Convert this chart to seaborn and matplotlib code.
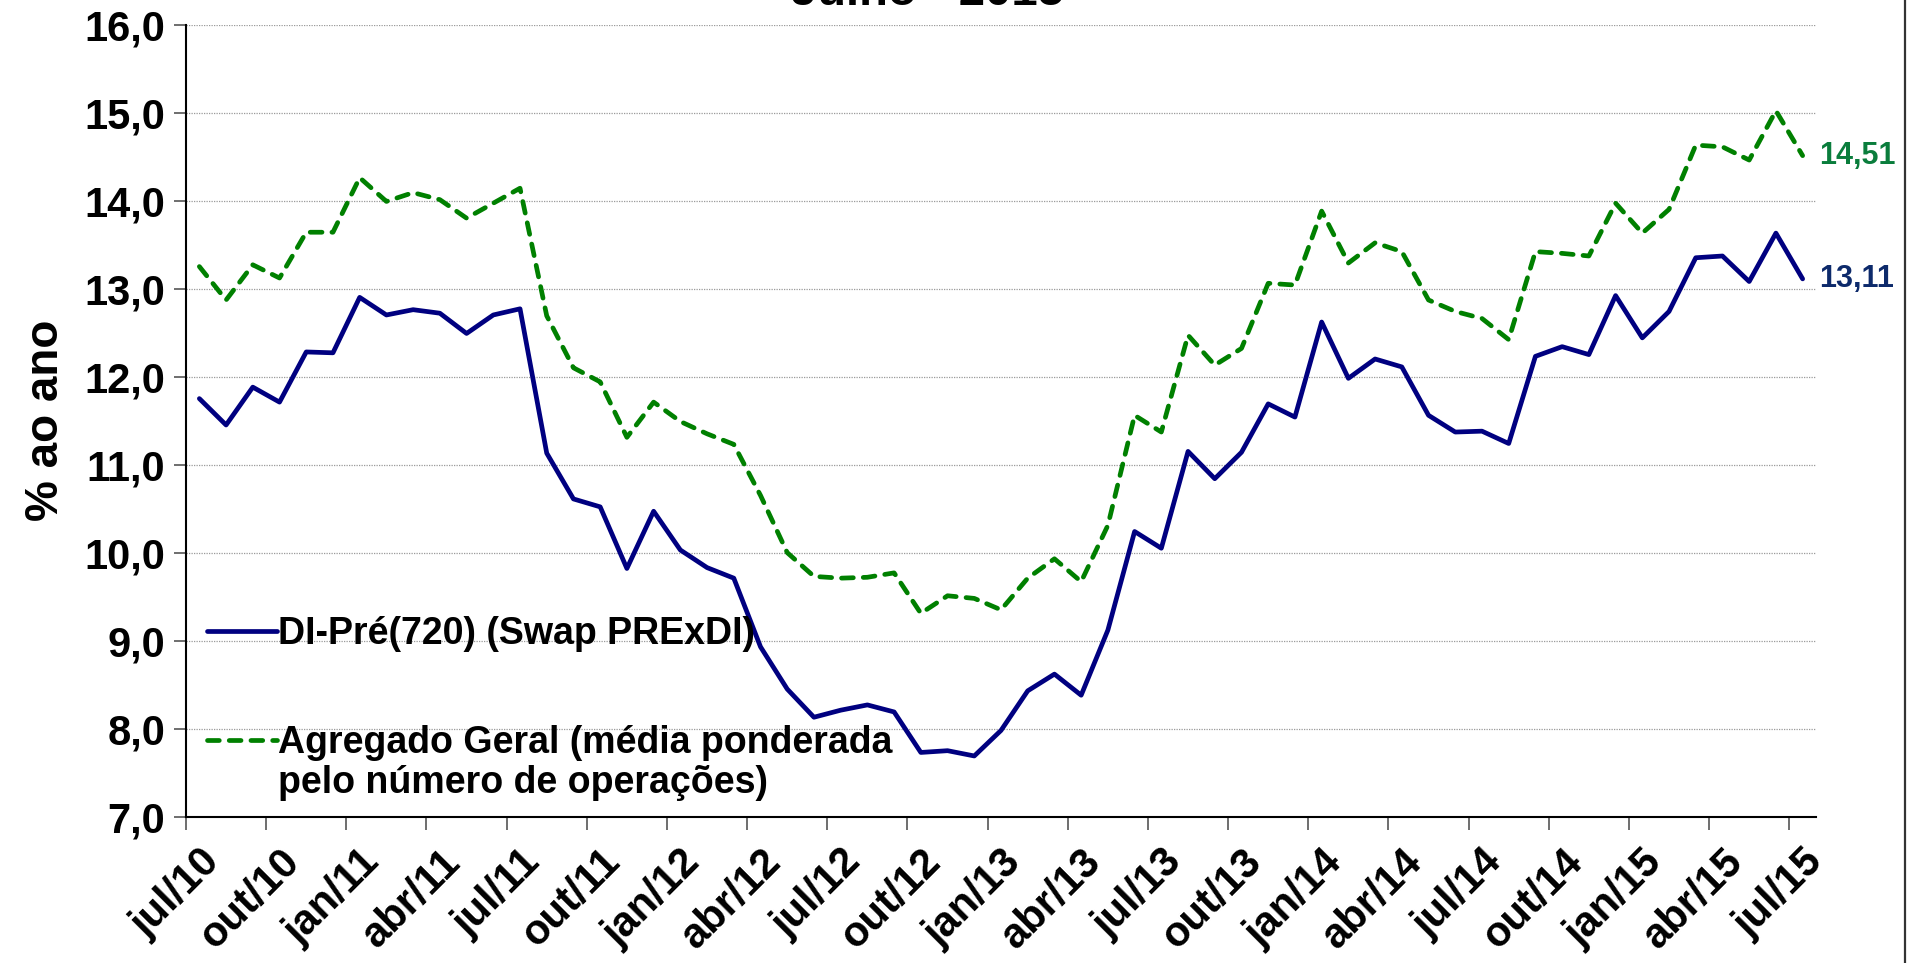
import numpy as np
import pandas as pd
import matplotlib
matplotlib.use("Agg")
import matplotlib.pyplot as plt
from matplotlib.lines import Line2D
from matplotlib.ticker import FixedLocator
import seaborn as sns

# ---- data -------------------------------------------------------------
month_abbr = ["jan", "fev", "mar", "abr", "mai", "jun",
              "jul", "ago", "set", "out", "nov", "dez"]
start_year, start_month, n_months = 2010, 7, 61

di_pre = [11.75, 11.45, 11.88, 11.71, 12.28, 12.27, 12.90, 12.70, 12.76, 12.72,
          12.49, 12.70, 12.77, 11.13, 10.61, 10.52, 9.82, 10.47, 10.03, 9.83,
          9.71, 8.93, 8.45, 8.13, 8.21, 8.27, 8.19, 7.73, 7.75, 7.69,
          7.98, 8.43, 8.62, 8.38, 9.12, 10.24, 10.05, 11.15, 10.84, 11.14,
          11.69, 11.54, 12.62, 11.98, 12.20, 12.11, 11.56, 11.37, 11.38, 11.24,
          12.23, 12.34, 12.25, 12.92, 12.44, 12.74, 13.35, 13.37, 13.08, 13.63,
          13.11]
agregado = [13.25, 12.87, 13.27, 13.12, 13.64, 13.64, 14.26, 13.99, 14.09, 14.01,
            13.80, 13.97, 14.14, 12.69, 12.10, 11.94, 11.31, 11.71, 11.49, 11.35,
            11.23, 10.65, 10.00, 9.73, 9.71, 9.72, 9.77, 9.31, 9.51, 9.48,
            9.35, 9.71, 9.93, 9.67, 10.31, 11.56, 11.37, 12.47, 12.13, 12.32,
            13.06, 13.04, 13.88, 13.29, 13.52, 13.42, 12.87, 12.74, 12.66, 12.42,
            13.42, 13.40, 13.37, 13.97, 13.63, 13.90, 14.63, 14.61, 14.46, 15.02,
            14.51]
y_ticks = [7, 8, 9, 10, 11, 12, 13, 14, 15, 16]
y_tick_labels = ["7,0", "8,0", "9,0", "10,0", "11,0", "12,0", "13,0", "14,0", "15,0", "16,0"]
label_di = "DI-Pré(720) (Swap PRExDI)"
label_ag_1 = "Agregado Geral (média ponderada"
label_ag_2 = "pelo número de operações)"
end_di = "13,11"
end_ag = "14,51"
title = "Julho - 2015"
ylabel = "% ao ano"

months = []
for k in range(n_months):
    m = (start_month - 1 + k) % 12
    y = start_year + (start_month - 1 + k) // 12
    months.append(f"{month_abbr[m]}/{y % 100:02d}")
idx = np.arange(n_months)
df = pd.DataFrame({"idx": idx, "mes": months, "di": di_pre, "ag": agregado})

# ---- style ------------------------------------------------------------
sns.set_theme(style="white")
plt.rcParams["font.family"] = ["Liberation Sans", "DejaVu Sans"]
plt.rcParams["font.weight"] = "bold"
plt.rcParams["text.color"] = "black"
plt.rcParams["axes.labelcolor"] = "black"

W, H, DPI = 1917, 963, 100
fig = plt.figure(figsize=(W / DPI, H / DPI), dpi=DPI)
ax = fig.add_axes([186 / W, 1 - 816.7 / H, (1816 - 186) / W, (816.7 - 24.5) / H])

BLUE = "#000080"
GREEN = "#008000"
LEG_FS = 27

sns.lineplot(data=df, x="idx", y="di", ax=ax, color=BLUE, linewidth=3.4,
             label=label_di, solid_capstyle="round")
sns.lineplot(data=df, x="idx", y="ag", ax=ax, color=GREEN, linewidth=3.4,
             label=label_ag_1, dashes=False)
ax.lines[1].set_linestyle((0, (2.5, 2.1)))
ax.lines[1].set_dash_capstyle("round")

ax.set_xlim(-0.5, n_months - 0.5)
ax.set_ylim(7, 16)

# y axis
ax.set_yticks(y_ticks)
ax.set_yticklabels(y_tick_labels)
ax.yaxis.grid(True, color="#9a9a9a", linestyle=(0, (1, 1)), linewidth=0.9)
ax.xaxis.grid(False)
ax.tick_params(axis="y", which="major", direction="out", length=9, width=1.2,
               color="#555555", labelcolor="black", labelsize=30, pad=6, left=True)
for t in ax.get_yticklabels():
    t.set_fontweight("bold")

# x axis: labels every 3 months at the category, ticks between categories
lab_pos = idx[::3]
ax.xaxis.set_major_locator(FixedLocator(lab_pos))
ax.set_xticklabels([months[i] for i in lab_pos], rotation=45, ha="right",
                   va="top", rotation_mode="anchor", fontsize=30, fontweight="bold")
ax.xaxis.set_minor_locator(FixedLocator(np.arange(-0.5, n_months - 0.5, 3)))
ax.tick_params(axis="x", which="major", length=0, pad=18, bottom=True,
               labelcolor="black")
ax.tick_params(axis="x", which="minor", direction="out", length=9, width=1.2,
               color="#555555", bottom=True)

ax.set_xlabel("")
ax.set_ylabel(ylabel, fontsize=33, fontweight="bold", labelpad=12, color="black")

for s in ["top", "right"]:
    ax.spines[s].set_visible(False)
for s in ["left", "bottom"]:
    ax.spines[s].set_color("black")
    ax.spines[s].set_linewidth(1.5)

# legend
leg = ax.legend(loc="upper left", bbox_to_anchor=(0.013, 0.253), frameon=False,
                fontsize=LEG_FS, handlelength=1.85, handletextpad=0.05,
                labelspacing=1.95, borderpad=0, borderaxespad=0)
for t in leg.get_texts():
    t.set_fontweight("bold")
    t.set_color("black")

# end labels
ax.annotate(end_ag, xy=(idx[-1], agregado[-1]), xytext=(12, 0),
            textcoords="offset points", va="center", ha="left",
            fontsize=22, fontweight="bold", color="#0a7d3c", annotation_clip=False)
ax.annotate(end_di, xy=(idx[-1], di_pre[-1]), xytext=(12, 0),
            textcoords="offset points", va="center", ha="left",
            fontsize=22, fontweight="bold", color="#0d2a6b", annotation_clip=False)

# title (cut off at top as in the reference)
fig.text(0.484, 1 - 5 / H, title, ha="center", va="baseline",
         fontsize=34, fontweight="bold")

# right border of the chart area
fig.add_artist(Line2D([1905 / W, 1905 / W], [0, 1], transform=fig.transFigure,
                      color="#333333", linewidth=1.6))

# second line of the green legend label, placed under its first line
fig.canvas.draw()
bb = leg.get_texts()[1].get_window_extent()
inv = ax.transAxes.inverted()
x0, yc = inv.transform((bb.x0, (bb.y0 + bb.y1) / 2 - 39.5))
ax.text(x0, yc, label_ag_2, transform=ax.transAxes, ha="left", va="center",
        fontsize=LEG_FS, fontweight="bold", color="black", zorder=10)

fig.savefig("out.png", dpi=DPI)
